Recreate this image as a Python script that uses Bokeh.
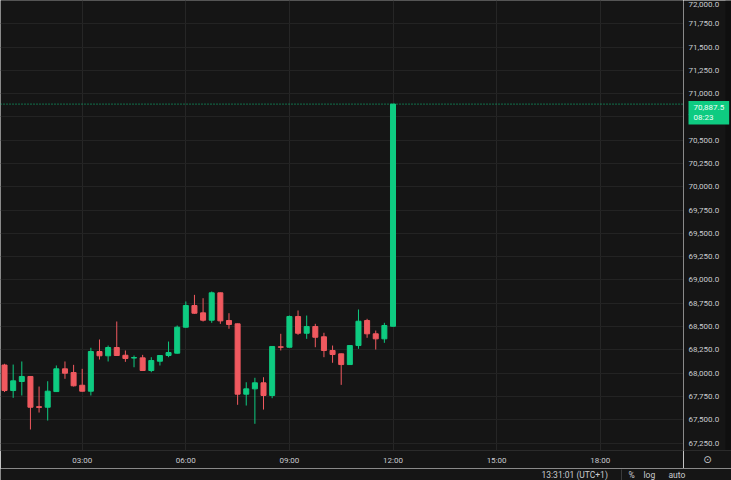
from bokeh.plotting import figure
from bokeh.layouts import row, column
from bokeh.models import ColumnDataSource, FixedTicker, Span
from bokeh.core.properties import value
from bokeh.embed import file_html
from bokeh.resources import INLINE

# ---- data (15-minute candles) ----
times = ["00:45", "01:00", "01:15", "01:30", "01:45", "02:00", "02:15", "02:30", "02:45", "03:00",
         "03:15", "03:30", "03:45", "04:00", "04:15", "04:30", "04:45", "05:00", "05:15", "05:30",
         "05:45", "06:00", "06:15", "06:30", "06:45", "07:00", "07:15", "07:30", "07:45", "08:00",
         "08:15", "08:30", "08:45", "09:00", "09:15", "09:30", "09:45", "10:00", "10:15", "10:30",
         "10:45", "11:00", "11:15", "11:30", "11:45", "12:00"]
opens = [68087, 67813, 67910, 67964, 67640, 67634, 67802, 68046, 68006, 67870,
         67806, 68232, 68186, 68275, 68192, 68162, 68164, 68028, 68128, 68189,
         68214, 68493, 68726, 68647, 68568, 68862, 68565, 68529, 67774, 67831,
         67896, 67760, 68282, 68278, 68608, 68428, 68500, 68390, 68243, 68207,
         68092, 68296, 68565, 68422, 68368, 68503]
highs = [68100, 68092, 68125, 67969, 67856, 67913, 68082, 68125, 68089, 68046,
         68272, 68361, 68296, 68554, 68243, 68189, 68196, 68171, 68189, 68339,
         68511, 68769, 68840, 68804, 68876, 68865, 68643, 68532, 67902, 67950,
         67956, 68286, 68422, 68618, 68672, 68618, 68529, 68433, 68296, 68210,
         68296, 68683, 68583, 68457, 68540, 70887.5]
lows = [67797, 67735, 67760, 67395, 67577, 67491, 67802, 67939, 67856, 67802,
        67760, 68146, 68125, 68189, 68121, 68063, 68028, 68010, 68082, 68171,
        68210, 68489, 68637, 68554, 68540, 68529, 68476, 67660, 67652, 67456,
        67609, 67731, 68243, 68275, 68411, 68368, 68278, 68171, 68111, 67874,
        68092, 68261, 68379, 68253, 68325, 68500]
closes = [67813, 67917, 67964, 67634, 67632, 67806, 68046, 67999, 67864, 67806,
          68232, 68186, 68275, 68189, 68157, 68167, 68028, 68135, 68189, 68221,
          68493, 68726, 68643, 68568, 68862, 68561, 68522, 67774, 67831, 67896,
          67760, 68286, 68278, 68608, 68428, 68500, 68385, 68243, 68200, 68092,
          68296, 68557, 68422, 68368, 68511, 70887.5]

last_price = 70887.5
last_price_text = "70,887.5\n08:23"
status_items = ["13:31:01 (UTC+1)", "%", "log", "auto"]
time_ticks = [3, 6, 9, 12, 15, 18]
time_tick_labels = ["03:00", "06:00", "09:00", "12:00", "15:00", "18:00"]
price_ticks = [67250, 67500, 67750, 68000, 68250, 68500, 68750, 69000, 69250, 69500,
               69750, 70000, 70250, 70500, 70750, 71000, 71250, 71500, 71750]
price_tick_labels = ["67,250.0", "67,500.0", "67,750.0", "68,000.0", "68,250.0", "68,500.0",
                     "68,750.0", "69,000.0", "69,250.0", "69,500.0", "69,750.0", "70,000.0",
                     "70,250.0", "70,500.0", "70,750.0", "71,000.0", "71,250.0", "71,500.0",
                     "71,750.0"]
top_tick = 72000
top_tick_label = "72,000.0"

# ---- styling ----
BG = "#151515"
UP = "#0ecb81"
DOWN = "#f0595f"
TXT = "#c9cbd0"
GRID = "#232323"
SEP = "#2b2b2b"
FONT = "Roboto"

Y_TOP = 71999.5
Y_BOTTOM = 67169.5

hours = [int(t[:2]) + int(t[3:]) / 60 for t in times]
colors = [UP if c >= o else DOWN for o, c in zip(opens, closes)]
src = ColumnDataSource(dict(
    x=hours, o=opens, h=highs, l=lows, c=closes,
    top=[max(o, c) for o, c in zip(opens, closes)],
    bot=[min(o, c) for o, c in zip(opens, closes)],
    color=colors,
))

# ---- main chart pane ----
p = figure(width=683, height=468, x_range=(0.633, 20.413), y_range=(Y_BOTTOM, Y_TOP),
           y_axis_location=None, output_backend="svg", toolbar_location=None,
           min_border_left=0, min_border_top=0, min_border_right=0, min_border_bottom=18,
           background_fill_color=BG, border_fill_color=BG, outline_line_color=None)

p.segment(x0="x", y0="h", x1="x", y1="l", line_color="color", line_width=1, source=src)
p.vbar(x="x", width=0.145, top="top", bottom="bot", fill_color="color",
       line_color="color", line_width=1, source=src)

p.add_layout(Span(location=last_price, dimension="width", line_color=UP,
                  line_dash="1 2", line_width=1))

xa = p.xaxis[0]
xa.ticker = FixedTicker(ticks=time_ticks)
xa.major_label_overrides = {t: s for t, s in zip(time_ticks, time_tick_labels)}
xa.major_tick_line_color = None
xa.minor_tick_line_color = None
xa.major_tick_out = 0
xa.major_tick_in = 0
xa.minor_tick_out = 0
xa.axis_line_color = SEP
xa.major_label_text_color = TXT
xa.major_label_text_font = FONT
xa.major_label_text_font_size = "8px"
xa.major_label_standoff = 5

p.xgrid.ticker = FixedTicker(ticks=time_ticks)
p.xgrid.grid_line_color = "#262626"
p.ygrid.ticker = FixedTicker(ticks=price_ticks + [top_tick])
p.ygrid.grid_line_color = GRID

# ---- price scale pane (shares the price range) ----
s = figure(width=48, height=468, x_range=(0, 48), y_range=p.y_range,
           y_axis_location=None, output_backend="svg", toolbar_location=None,
           min_border_left=0, min_border_top=0, min_border_right=0, min_border_bottom=18,
           background_fill_color=BG, border_fill_color=BG, outline_line_color=None)
s.grid.visible = False

sa = s.xaxis[0]
sa.ticker = FixedTicker(ticks=[])
sa.major_tick_line_color = None
sa.minor_tick_line_color = None
sa.major_tick_out = 0
sa.minor_tick_out = 0
sa.axis_line_color = SEP
sa.axis_label = "⊙"
sa.axis_label_standoff = 3
sa.axis_label_text_font = "DejaVu Sans"
sa.axis_label_text_font_size = "10px"
sa.axis_label_text_font_style = "normal"
sa.axis_label_text_color = TXT

s.quad(left=[42], right=[48], bottom=[Y_BOTTOM], top=[Y_TOP],
       fill_color="#0f0f0f", line_color=None)

s.text(x=[5] * len(price_ticks), y=price_ticks, text=price_tick_labels,
       text_align="left", text_baseline="middle", text_font=value(FONT),
       text_font_size="8px", text_color=TXT)
s.text(x=[5], y=[top_tick], text=[top_tick_label], text_align="left",
       text_baseline="top", y_offset=2, text_font=value(FONT), text_font_size="8px",
       text_color=TXT)

s.text(x=[5], y=[last_price], text=[last_price_text], text_align="left",
       text_baseline="top", y_offset=-3, text_font=value(FONT), text_font_size="8px",
       text_line_height=1.15, text_color="#effff8",
       background_fill_color=UP, padding=dict(left=5, right=5, top=2, bottom=2))

# ---- status bar strip ----
b = figure(width=731, height=12, x_range=(0, 731), y_range=(0, 12),
           x_axis_location=None, y_axis_location=None, output_backend="svg",
           toolbar_location=None, min_border=0,
           background_fill_color=BG, border_fill_color=BG, outline_line_color=None)
b.grid.visible = False
b.text(x=[541, 628, 643, 668], y=[6, 6, 6, 6], text=status_items, text_align="left",
       text_baseline="middle", text_font=value(FONT), text_font_size="8.5px", text_color=TXT)
b.segment(x0=[621], y0=[0], x1=[621], y1=[11], line_color="#3a3a3a", line_width=1)

layout = column(row(p, s, spacing=0), b, spacing=0)

open("out.html", "w").write(file_html(layout, INLINE))
